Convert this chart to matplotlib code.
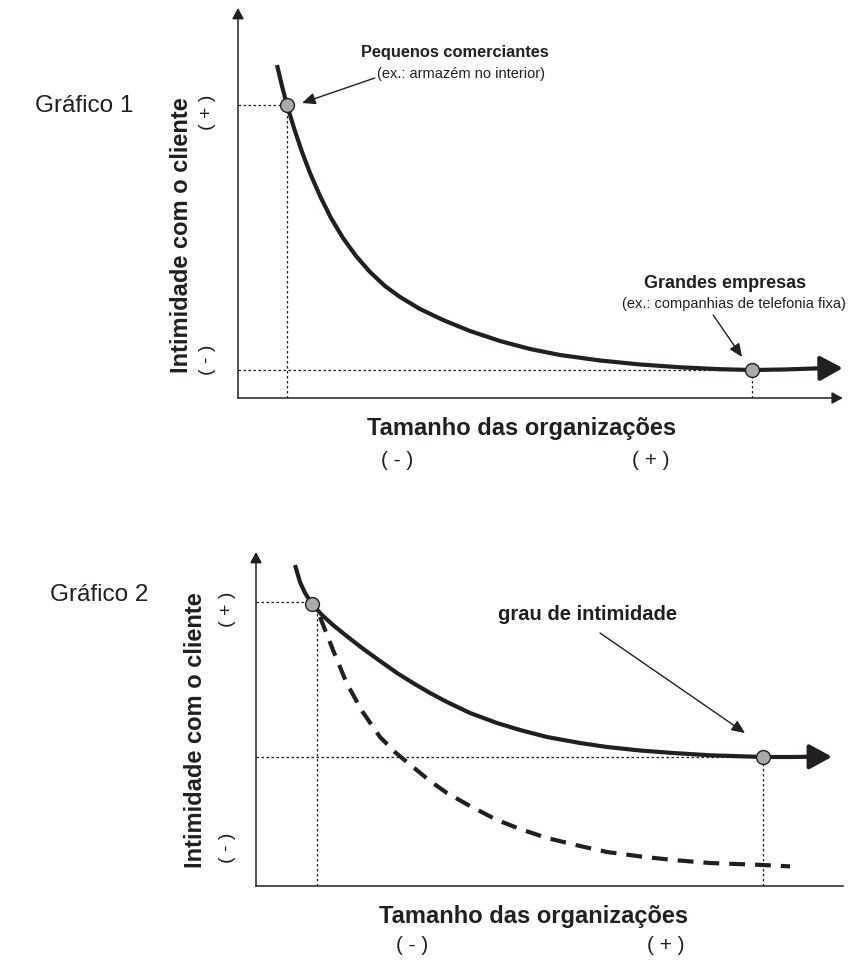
import matplotlib
matplotlib.use("Agg")
import matplotlib.pyplot as plt

plt.rcParams["font.family"] = ["Liberation Sans", "DejaVu Sans"]

W, H = 848, 963
INK = "#231f20"
DOT_FILL = "#a7a9ac"

# Gráfico 1: intimidade x tamanho (conceptual units)
g1_x = [6.5, 7.33, 8.17, 9.33, 10.67, 12.0, 13.67, 15.5, 17.5, 19.67, 22.0, 24.5,
        27.0, 30.33, 34.17, 38.67, 43.67, 48.67, 53.67, 60.33, 67.0, 73.67, 80.33,
        85.67, 91.17, 96.17]
g1_y = [83.25, 78.0, 73.25, 67.5, 61.5, 56.25, 50.5, 45.0, 40.0, 35.5, 31.5, 28.0,
        25.25, 22.25, 19.5, 16.75, 14.25, 12.25, 10.75, 9.38, 8.38, 7.68, 7.2,
        7.0, 7.13, 7.38]
g1_tip = (100.8, 7.5)
g1_pts_x = [8.17, 85.67]
g1_pts_y = [73.25, 7.0]

# Gráfico 2: curva sólida e curva tracejada
g2_x = [6.5, 7.33, 8.17, 9.38, 11.0, 12.83, 15.1, 17.67, 20.67, 23.5, 26.17,
        29.0, 31.83, 35.67, 40.17, 44.0, 48.5, 54.0, 58.5, 64.0, 69.5, 75.67,
        84.5, 89.0, 91.67]
g2_y = [80.25, 76.0, 73.25, 70.4, 67.75, 65.25, 62.5, 59.5, 56.25, 53.25, 50.75,
        48.25, 46.0, 43.25, 40.75, 39.0, 37.25, 35.75, 34.75, 33.88, 33.25, 32.68,
        32.25, 32.25, 32.3]
g2_tip = (96.0, 32.3)
g2_dash_x = [10.67, 12.83, 15.1, 17.67, 20.67, 23.33, 26.17, 29.0, 31.83, 35.67,
             40.17, 44.0, 48.5, 54.0, 58.5, 64.0, 69.5, 75.67, 84.5, 89.0]
g2_dash_y = [67.25, 59.0, 50.75, 43.75, 37.25, 33.25, 29.75, 26.25, 23.25, 20.0,
             16.5, 14.25, 12.0, 10.0, 8.5, 7.4, 6.5, 5.75, 5.25, 4.9]
g2_pts_x = [9.38, 84.5]
g2_pts_y = [70.4, 32.25]
g2_guide_x = [10.17, 84.5]
g2_guide_y = [71.0, 32.25]

YLABEL = "Intimidade com o cliente"
XLABEL = "Tamanho das organizações"


def fx(px):
    return px / W


def fy(py):
    return 1 - py / H


def make_axes(fig, left, right, top, bottom):
    # axes placed in a pixel box; 6 px per x unit, 4 px per y unit
    ax = fig.add_axes([fx(left), fy(bottom), (right - left) / W, (bottom - top) / H])
    ax.set_xlim(0, (right - left) / 6)
    ax.set_ylim(0, (bottom - top) / 4)
    ax.axis("off")
    return ax


def arrow(ax, start, end, lw, hl, hw, ms=10):
    ax.annotate("", xy=end, xytext=start, annotation_clip=False,
                arrowprops=dict(arrowstyle=f"-|>,head_length={hl},head_width={hw}",
                                mutation_scale=ms, lw=lw, color=INK,
                                shrinkA=0, shrinkB=0))


def guides(ax, gx, gy):
    for x, y in zip(gx, gy):
        ax.plot([0, x], [y, y], color=INK, lw=0.9, ls=(0, (2, 2)), clip_on=False)
        ax.plot([x, x], [0, y], color=INK, lw=0.9, ls=(0, (2, 2)), clip_on=False)


def points(ax, px, py):
    ax.plot(px, py, "o", ms=10, mfc=DOT_FILL, mec=INK, mew=1.0, zorder=5,
            clip_on=False)


fig = plt.figure(figsize=(W / 100, H / 100), dpi=100)

# ---------------- Gráfico 1 ----------------
ax1 = make_axes(fig, 238, 848, 0, 398)
arrow(ax1, (0, 0), (0, 97.5), 1.1, 0.65, 0.35)
arrow(ax1, (0, 0), (100.8, 0), 1.1, 0.65, 0.35)
guides(ax1, g1_pts_x, g1_pts_y)
ax1.plot(g1_x, g1_y, color=INK, lw=3, solid_capstyle="butt", clip_on=False)
arrow(ax1, (g1_x[-1], g1_y[-1]), g1_tip, 3, 1.37, 0.75)
points(ax1, g1_pts_x, g1_pts_y)
arrow(ax1, (22.8, 80.0), (10.67, 73.75), 1.0, 0.8, 0.35)
arrow(ax1, (79.2, 20.75), (84.0, 10.25), 1.0, 0.8, 0.35)

fig.text(fx(35), fy(106), "Gráfico 1", fontsize=17.5, color=INK, va="center")
fig.text(fx(182), fy(235), YLABEL, rotation=90, fontsize=17, fontweight="bold",
         color=INK, ha="center", va="center")
fig.text(fx(208), fy(112), "( + )", rotation=90, fontsize=14, color=INK,
         ha="center", va="center")
fig.text(fx(208), fy(360), "( - )", rotation=90, fontsize=14, color=INK,
         ha="center", va="center")
fig.text(fx(522), fy(428), XLABEL, fontsize=17, fontweight="bold", color=INK,
         ha="center", va="center")
fig.text(fx(397), fy(460), "( - )", fontsize=15, color=INK, ha="center", va="center")
fig.text(fx(651), fy(460), "( + )", fontsize=15, color=INK, ha="center", va="center")
fig.text(fx(455), fy(52), "Pequenos comerciantes", fontsize=11.8, fontweight="bold",
         color=INK, ha="center", va="center")
fig.text(fx(461), fy(74), "(ex.: armazém no interior)", fontsize=10.5, color=INK,
         ha="center", va="center")
fig.text(fx(725), fy(283), "Grandes empresas", fontsize=13, fontweight="bold",
         color=INK, ha="center", va="center")
fig.text(fx(846), fy(304), "(ex.: companhias de telefonia fixa)", fontsize=10.5,
         color=INK, ha="right", va="center")

# ---------------- Gráfico 2 ----------------
ax2 = make_axes(fig, 256, 848, 540, 886)
arrow(ax2, (0, 0), (0, 83.5), 1.1, 0.65, 0.35)
ax2.plot([0, 97.8], [0, 0], color=INK, lw=1.1, clip_on=False)
guides(ax2, g2_guide_x, g2_guide_y)
ax2.plot(g2_dash_x, g2_dash_y, color=INK, lw=3, dashes=(3.8, 2.4), clip_on=False)
ax2.plot(g2_x, g2_y, color=INK, lw=3, solid_capstyle="butt", clip_on=False)
arrow(ax2, (g2_x[-1], g2_y[-1]), g2_tip, 3, 1.37, 0.75)
points(ax2, g2_pts_x, g2_pts_y)
arrow(ax2, (57.33, 63.25), (81.5, 38.25), 1.0, 0.8, 0.35)

fig.text(fx(50), fy(595), "Gráfico 2", fontsize=17.5, color=INK, va="center")
fig.text(fx(196), fy(730), YLABEL, rotation=90, fontsize=17, fontweight="bold",
         color=INK, ha="center", va="center")
fig.text(fx(228), fy(609), "( + )", rotation=90, fontsize=14, color=INK,
         ha="center", va="center")
fig.text(fx(228), fy(848), "( - )", rotation=90, fontsize=14, color=INK,
         ha="center", va="center")
fig.text(fx(588), fy(614), "grau de intimidade", fontsize=14.5, fontweight="bold",
         color=INK, ha="center", va="center")
fig.text(fx(534), fy(916), XLABEL, fontsize=17, fontweight="bold", color=INK,
         ha="center", va="center")
fig.text(fx(412), fy(945), "( - )", fontsize=15, color=INK, ha="center", va="center")
fig.text(fx(666), fy(945), "( + )", fontsize=15, color=INK, ha="center", va="center")

fig.savefig("out.png", dpi=100)
